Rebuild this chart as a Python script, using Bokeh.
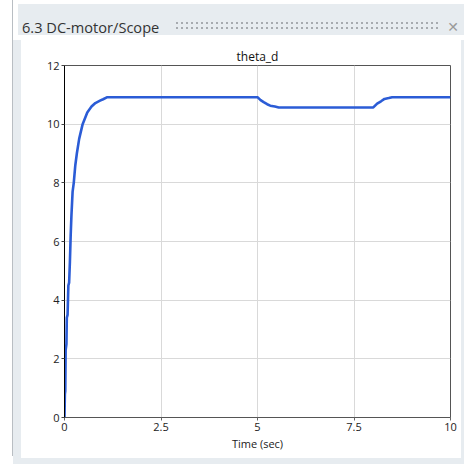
from bokeh.plotting import figure
from bokeh.models import Div, Column, Row, Spacer, FixedTicker
from bokeh.embed import file_html
from bokeh.resources import INLINE

# ---- data ----
window_title = "6.3 DC-motor/Scope"
plot_title = "theta_d"
x_label = "Time (sec)"
x_ticks = [0, 2.5, 5, 7.5, 10]
x_tick_labels = ["0", "2.5", "5", "7.5", "10"]
y_ticks = [0, 2, 4, 6, 8, 10, 12]
y_tick_labels = ["0", "2", "4", "6", "8", "10", "12"]

time_s = [0.0, 0.01, 0.02, 0.03, 0.05, 0.06, 0.08, 0.10, 0.12, 0.14, 0.16, 0.18,
          0.21, 0.24, 0.28, 0.32, 0.38, 0.47, 0.59, 0.70, 0.80, 0.92, 1.00, 1.11,
          5.00, 5.08, 5.16, 5.25, 5.33, 5.45, 5.55,
          8.00, 8.10, 8.20, 8.29, 8.40, 8.49, 10.0]
theta_d = [0.0, 0.8, 0.9, 2.3, 2.5, 3.4, 3.5, 4.5, 4.6, 5.3, 6.2, 6.9,
           7.7, 8.0, 8.6, 9.0, 9.5, 10.0, 10.4, 10.6, 10.72, 10.8, 10.85, 10.92,
           10.92, 10.82, 10.75, 10.68, 10.63, 10.6, 10.57,
           10.57, 10.7, 10.78, 10.86, 10.89, 10.92, 10.92]

FONT = "Open Sans"
FRAME = "#e7ecf0"
EDGE = "#b9bec3"

p = figure(width=440, height=418, x_range=(0, 10), y_range=(0, 12),
           output_backend="svg", toolbar_location=None,
           min_border_left=43, min_border_right=11, min_border_top=25,
           min_border_bottom=41)
p.title.text = plot_title
p.title.align = "center"
p.title.text_font = FONT
p.title.text_font_size = "12px"
p.title.text_font_style = "normal"
p.title.text_color = "#111111"
p.title.standoff = 2
p.title.offset = 0

p.background_fill_color = "white"
p.border_fill_color = "white"
p.outline_line_color = "#555555"
p.outline_line_width = 1

p.line(time_s, theta_d, line_color="#2b5cd6", line_width=2.6)

p.xaxis.ticker = FixedTicker(ticks=x_ticks)
p.xaxis.major_label_overrides = {k: v for k, v in zip(x_ticks, x_tick_labels)}
p.yaxis.ticker = FixedTicker(ticks=y_ticks)
p.yaxis.major_label_overrides = {k: v for k, v in zip(y_ticks, y_tick_labels)}

for ax in (p.xaxis[0], p.yaxis[0]):
    ax.major_label_text_font = FONT
    ax.major_label_text_font_size = "11px"
    ax.major_label_text_color = "#222222"
    ax.minor_tick_line_color = None
    ax.major_tick_in = 0
    ax.major_tick_out = 3
    ax.major_label_standoff = 2
    ax.axis_line_width = 1

p.yaxis.axis_line_color = "black"
p.yaxis.major_tick_line_color = "#444444"
p.xaxis.axis_line_color = "#555555"
p.xaxis.major_tick_line_color = "#666666"

p.xaxis.axis_label = x_label
p.xaxis.axis_label_text_font = FONT
p.xaxis.axis_label_text_font_size = "11px"
p.xaxis.axis_label_text_font_style = "normal"
p.xaxis.axis_label_text_color = "#222222"
p.xaxis.axis_label_standoff = 2

p.grid.grid_line_color = "#d9d9d9"
p.grid.grid_line_width = 1

# title bar of the window (decoration)
dots = []
for row_top in (18, 23):
    for i in range(53):
        dots.append('<div style="position:absolute;left:%dpx;top:%dpx;width:2px;height:2px;'
                    'background:#a7abb0;"></div>' % (158 + i * 5, row_top))
bar_html = (
    '<div style="position:relative;width:446px;height:31px;background:%s;font-family:\'Open Sans\';">' % FRAME
    + '<span style="position:absolute;left:4px;top:13px;font-size:14.6px;line-height:20px;color:#333;white-space:nowrap;">'
    + window_title + '</span>'
    + "".join(dots)
    + '<span style="position:absolute;left:425px;top:13px;width:20px;text-align:center;font-family:\'DejaVu Sans\';'
      'font-size:14px;line-height:20px;color:#9a9a9a;">&#x2715;</span>'
    + '</div>'
)
bar = Div(text=bar_html, width=451, height=31, styles={"background-color": FRAME})

def block(w, h, color=None):
    st = {}
    if color:
        st["background-color"] = color
    return Spacer(width=w, height=h, styles=st)

inner = Column(children=[
    block(451, 1, EDGE),
    bar,
    Row(children=[block(8, 418, FRAME), p, block(3, 418, FRAME)], spacing=0),
    block(451, 8, FRAME),
], spacing=0)

layout = Row(children=[block(1, 458, EDGE), inner], spacing=0,
             styles={"position": "absolute", "left": "12px", "top": "-2px"})

open("out.html", "w").write(file_html(layout, INLINE))
